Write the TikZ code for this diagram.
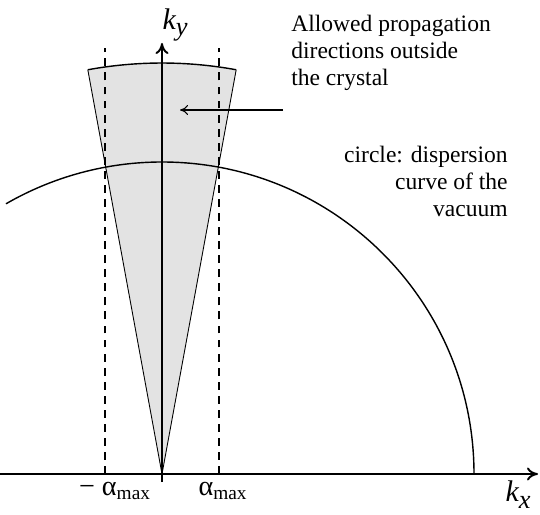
\documentclass[tikz,border=0pt]{standalone}
\usepackage{fontspec}
\setmainfont{LiberationSerif}[Extension=.ttf, UprightFont=*-Regular, ItalicFont=*-Italic, BoldFont=*-Bold, BoldItalicFont=*-BoldItalic]
\usetikzlibrary{arrows.meta}
\newcommand{\amax}{α\textsubscript{\fontsize{11}{11}\selectfont max}}
\begin{document}
\begin{tikzpicture}[
		>={To[length=2.2mm,width=2.6mm]},
		axis/.style={line width=1.1pt},
		guide/.style={dashed, line width=0.8pt, dash pattern=on 4.5pt off 3.5pt},
		curve/.style={line width=0.8pt},
		axislabel/.style={font=\fontsize{17}{17}\selectfont\itshape, inner sep=0pt},
		anglelabel/.style={font=\fontsize{16}{16}\selectfont, inner sep=0pt, anchor=base},
		note/.style={font=\fontsize{13.4}{15.4}\selectfont, inner sep=0pt}
	]
		\useasboundingbox (-3.24,-0.8) rectangle (7.56,9.48);
		\def\rcirc{6.24}
		\def\rcone{8.22}
		\def\half{10.4}
		\coordinate (O) at (0,0);
		% allowed cone
		\fill[gray!22] (O) -- ({90+\half}:\rcone) arc[start angle={90+\half}, end angle={90-\half}, radius=\rcone] -- cycle;
		\draw[line width=0.5pt] ({90+\half}:\rcone) -- (O) -- ({90-\half}:\rcone);
		\draw[curve] ({90+\half}:\rcone) arc[start angle={90+\half}, end angle={90-\half}, radius=\rcone];
		% vacuum dispersion circle
		\draw[curve] (\rcirc,0) arc[start angle=0, end angle=120, radius=\rcirc];
		% limits
		\foreach \s in {-1,1} {
			\draw[guide] ({\s*1.14},0) -- ({\s*1.14},8.52);
		}
		% axes
		\coordinate (xl) at (-3.24,0);
		\coordinate (xr) at (7.52,0);
		\coordinate (yb) at (0,-0.16);
		\coordinate (yt) at (0,8.62);
		\draw[axis,->] (xl) -- (xr);
		\draw[axis,->] (yb) -- (yt);
		\node[axislabel] (kx) at (7.12,-0.42) {k\raisebox{-0.5ex}{\fontsize{15}{15}\selectfont x}};
		\node[axislabel] (ky) at (0.26,8.98) {k\raisebox{-0.5ex}{\fontsize{15}{15}\selectfont y}};
		\node[anglelabel] (aminus) at (-0.94,-0.42) {− \amax};
		\node[anglelabel] (aplus) at (1.22,-0.42) {\amax};
		% notes
		\node[note, align=left, anchor=base west] (cone) at (2.58,7.76) {Allowed propagation\\directions outside\\the crystal};
		\node[note, align=right, anchor=base east] (vac) at (6.92,5.14) {circle: dispersion\\curve of the\\vacuum};
		\coordinate (tip) at (0.36,7.28);
		\draw[->, line width=0.6pt, >={To[length=1.6mm,width=2mm]}] (cone.west |- tip) ++(-0.16,0) -- (tip);
\end{tikzpicture}
\end{document}
